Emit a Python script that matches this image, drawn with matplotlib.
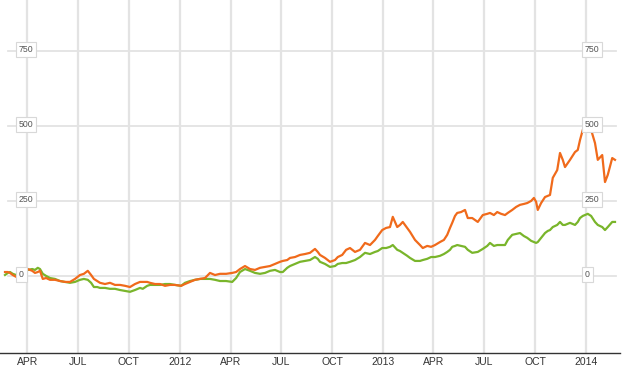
import matplotlib
matplotlib.use("Agg")
import matplotlib.pyplot as plt
import matplotlib.transforms as mtransforms
import numpy as np
import pandas as pd

plt.rcParams['font.family'] = ['Liberation Sans', 'DejaVu Sans']

start_date = "2011-02-11"
# days since start_date
day_offsets = [9, 14, 18, 23, 29, 36, 43, 50, 58, 63, 68, 72, 77, 83, 90, 99, 108, 117, 126, 135,
               144, 151, 158, 164, 169, 175, 180, 189, 198, 207, 216, 225, 234, 243, 252, 257, 265, 270, 279, 288,
               297, 306, 315, 326, 333, 342, 351, 360, 369, 378, 387, 396, 407, 418, 425, 432, 441, 450, 459, 468,
               477, 486, 495, 504, 509, 517, 522, 531, 540, 549, 558, 567, 572, 576, 585, 594, 603, 608, 616, 623,
               630, 639, 648, 657, 666, 675, 680, 688, 695, 702, 707, 715, 720, 725, 733, 738, 747, 756, 761, 769,
               776, 783, 792, 799, 805, 810, 814, 819, 823, 830, 837, 842, 850, 860, 869, 877, 882, 889, 895, 902,
               909, 914, 922, 929, 936, 943, 949, 956, 961, 965, 968, 974, 981, 986, 990, 995, 1003, 1008, 1013, 1017,
               1026, 1035, 1040, 1044, 1049, 1053, 1058, 1064, 1071, 1076, 1084, 1089, 1094, 1102, 1107]

orange_values = [13, 13, 10, 3, -3, 7, 17, 23, 17, 10, 13, 17, -10, -7, -13, -13, -17, -20, -20, -10,
                 3, 7, 17, 3, -10, -17, -23, -27, -23, -30, -30, -33, -37, -27, -20, -20, -20, -23, -27, -27,
                 -33, -30, -30, -33, -27, -20, -13, -10, -7, 10, 3, 7, 7, 10, 13, 23, 33, 23, 20, 27,
                 30, 33, 40, 47, 50, 53, 60, 63, 70, 73, 77, 90, 80, 70, 60, 47, 53, 63, 70, 87,
                 93, 80, 87, 110, 103, 120, 133, 153, 160, 163, 197, 163, 170, 180, 160, 147, 120, 103, 93, 100,
                 97, 103, 113, 120, 137, 160, 177, 200, 210, 213, 220, 193, 193, 180, 203, 207, 210, 203, 213, 207,
                 203, 210, 220, 230, 237, 240, 243, 250, 260, 247, 220, 243, 263, 267, 270, 327, 353, 410, 387, 363,
                 387, 413, 420, 453, 487, 493, 497, 487, 443, 387, 403, 313, 337, 393, 387]

green_values = [3, 10, 13, 7, 3, 10, 17, 20, 23, 20, 27, 23, 7, 0, -7, -10, -17, -20, -23, -20,
                -13, -10, -13, -23, -37, -37, -40, -40, -43, -43, -47, -50, -53, -47, -40, -43, -33, -30, -30, -30,
                -27, -27, -30, -33, -23, -17, -13, -10, -10, -10, -13, -17, -17, -20, -7, 13, 23, 17, 10, 7,
                10, 17, 20, 13, 13, 27, 33, 40, 47, 50, 53, 63, 57, 47, 40, 30, 33, 40, 43, 43,
                47, 53, 63, 77, 73, 80, 83, 93, 93, 97, 103, 87, 83, 77, 67, 60, 50, 50, 53, 57,
                63, 63, 67, 73, 80, 87, 97, 100, 103, 100, 97, 87, 77, 80, 90, 100, 110, 100, 103, 103,
                103, 120, 137, 140, 143, 133, 127, 117, 113, 110, 113, 127, 143, 150, 153, 163, 170, 180, 170, 170,
                177, 170, 180, 193, 200, 203, 207, 200, 180, 170, 163, 153, 163, 180, 180]

tick_dates = ["2011-04-01", "2011-07-01", "2011-10-01", "2012-01-01", "2012-04-01", "2012-07-01",
              "2012-10-01", "2013-01-01", "2013-04-01", "2013-07-01", "2013-10-01", "2014-01-01"]
tick_labels = ["APR", "JUL", "OCT", "2012", "APR", "JUL", "OCT", "2013", "APR", "JUL", "OCT", "2014"]
y_levels = [0, 250, 500, 750]
y_level_labels = ["0", "250", "500", "750"]

W, H = 633, 370
fig = plt.figure(figsize=(W / 100, H / 100), dpi=100)
ax = fig.add_axes([0, 17 / H, 620 / W, 353 / H])

t0 = pd.Timestamp(start_date)
dates = t0 + pd.to_timedelta(day_offsets, unit="D")

ax.set_xlim(t0, t0 + pd.Timedelta(days=1116))
ax.set_ylim(-257, 920)

# vertical grid
for d in tick_dates:
    ax.axvline(pd.Timestamp(d), color="#e3e3e3", lw=1.6, zorder=0)
# horizontal grid
for v in y_levels:
    ax.axhline(v, xmin=8 / 620, xmax=616 / 620, color="#e3e3e3", lw=1.3, zorder=0)

ax.plot(dates, green_values, color="#79b52b", lw=1.6, zorder=2, solid_joinstyle="round")
ax.plot(dates, orange_values, color="#f06a1b", lw=1.6, zorder=3, solid_joinstyle="round")

ax.set_xticks([pd.Timestamp(d) for d in tick_dates])
ax.set_xticklabels(tick_labels)
ax.tick_params(axis="x", length=0, pad=3, labelsize=7.5, colors="#333333")
ax.set_yticks([])

for s in ["top", "left", "right"]:
    ax.spines[s].set_visible(False)
ax.spines["bottom"].set_color("#333333")
ax.spines["bottom"].set_linewidth(1.0)

trans = mtransforms.blended_transform_factory(ax.transAxes, ax.transData)
for v, lab in zip(y_levels, y_level_labels):
    for xpx in (19, 585):
        ax.text(xpx / 620, v + 5, lab, transform=trans, ha="left", va="center",
                fontsize=6.3, color="#555555", zorder=5,
                bbox=dict(boxstyle="square,pad=0.3", fc="white", ec="#d8d8d8", lw=0.8))

fig.savefig("out.png", dpi=100)
